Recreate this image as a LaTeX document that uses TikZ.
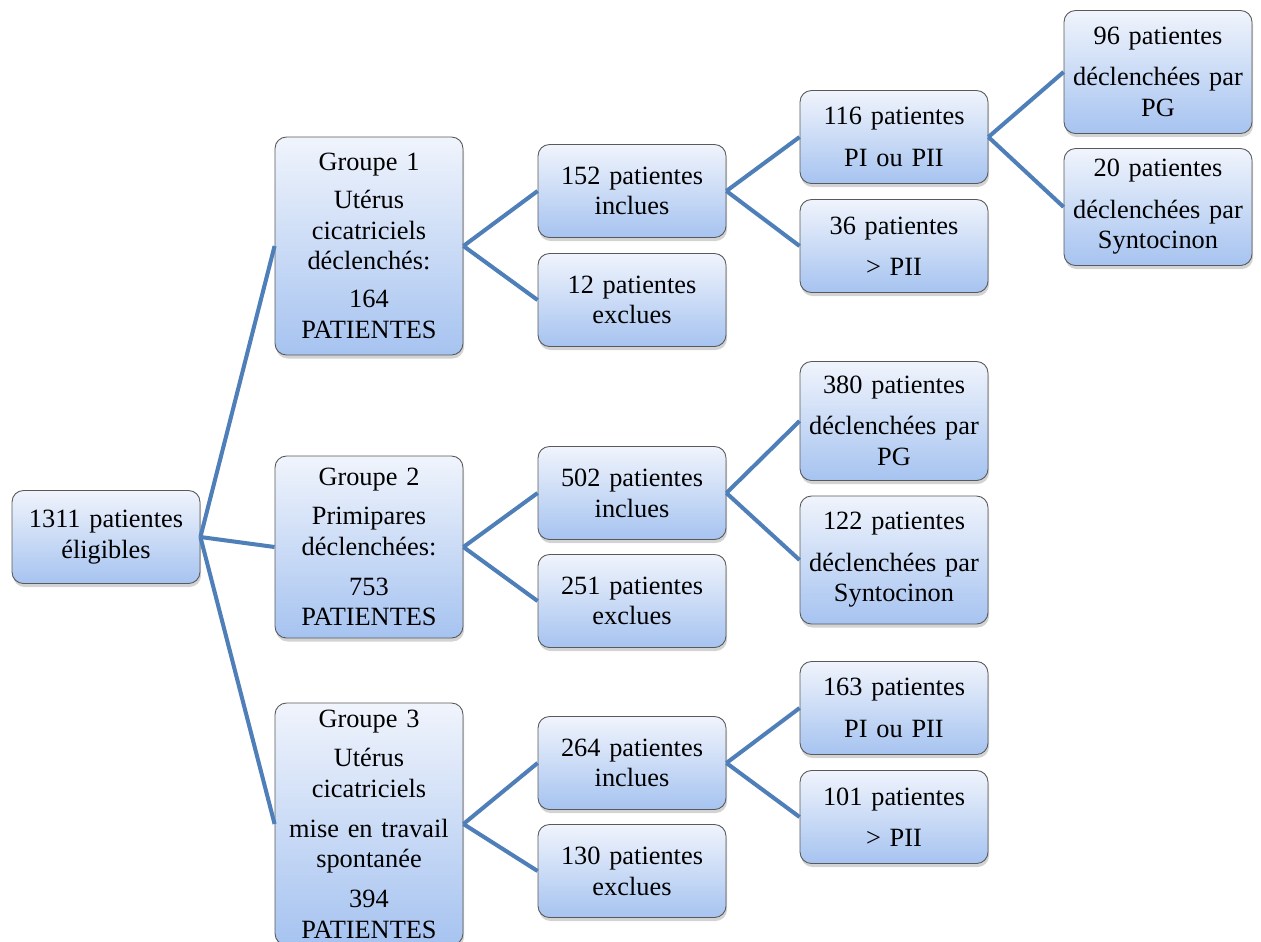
\documentclass[tikz,border=0pt]{standalone}
\usepackage{fontspec}
\setmainfont{Liberation Serif}
\usetikzlibrary{shadows}
\definecolor{boxtop}{RGB}{240,244,252}
\definecolor{boxbot}{RGB}{166,195,240}
\definecolor{linkblue}{RGB}{79,127,184}

\begin{document}
\begin{tikzpicture}[x=0.02cm,y=-0.02cm,
    patbox/.style={draw=black!65, line width=0.5pt, rounded corners=6.5pt,
      top color=boxtop, bottom color=boxbot, text width=3.6cm, align=center,
      minimum width=3.76cm, inner sep=2pt, font=\fontsize{15}{17.5}\selectfont,
      drop shadow={opacity=0.35, shadow xshift=0.6pt, shadow yshift=-2pt}},
    link/.style={draw=linkblue, line width=2.3pt}]
  \useasboundingbox (0,0) rectangle (1261,941);
  % racine
  \node[patbox, minimum height=1.86cm] (root) at (106,537) {1311 patientes\\ éligibles};
  % groupes
  \node[patbox, minimum height=4.36cm] (grpA) at (369,246) {Groupe 1\\[4pt] Utérus\\ cicatriciels\\ déclenchés:\\[4pt] 164\\ PATIENTES};
  \node[patbox, minimum height=3.64cm] (grpB) at (369,547) {Groupe 2\\[5pt] Primipares\\ déclenchées:\\[5pt] 753\\ PATIENTES};
  \node[patbox, minimum height=4.84cm] (grpC) at (369,824) {Groupe 3\\[5pt] Utérus\\ cicatriciels\\[5pt] mise en travail\\ spontanée\\[5pt] 394\\ PATIENTES};
  % groupe 1
  \node[patbox, minimum height=1.86cm] (inclA) at (632,191) {152 patientes\\ inclues};
  \node[patbox, minimum height=1.86cm] (exclA) at (632,300) {12 patientes\\ exclues};
  \node[patbox, minimum height=1.86cm] (piA) at (894,137) {116 patientes\\[6pt] PI ou PII};
  \node[patbox, minimum height=1.86cm] (plusA) at (894,246) {36 patientes\\[6pt] > PII};
  \node[patbox, minimum height=2.46cm] (pgA) at (1158,72) {96 patientes\\[6pt] déclenchées par\\ PG};
  \node[patbox, minimum height=2.34cm] (syntA) at (1158,207) {20 patientes\\[6pt] déclenchées par\\ Syntocinon};
  % groupe 2
  \node[patbox, minimum height=1.86cm] (inclB) at (632,493) {502 patientes\\ inclues};
  \node[patbox, minimum height=1.86cm] (exclB) at (632,601) {251 patientes\\ exclues};
  \node[patbox, minimum height=2.38cm] (pgB) at (894,421) {380 patientes\\[6pt] déclenchées par\\ PG};
  \node[patbox, minimum height=2.56cm] (syntB) at (894,560) {122 patientes\\[6pt] déclenchées par\\ Syntocinon};
  % groupe 3
  \node[patbox, minimum height=1.86cm] (inclC) at (632,763) {264 patientes\\ inclues};
  \node[patbox, minimum height=1.86cm] (exclC) at (632,871) {130 patientes\\ exclues};
  \node[patbox, minimum height=1.86cm] (piC) at (894,708) {163 patientes\\[6pt] PI ou PII};
  \node[patbox, minimum height=1.86cm] (plusC) at (894,817) {101 patientes\\[6pt] > PII};
  % liens
  \foreach \a/\b in {root/grpA, root/grpB, root/grpC,
      grpA/inclA, grpA/exclA, inclA/piA, inclA/plusA, piA/pgA, piA/syntA,
      grpB/inclB, grpB/exclB, inclB/pgB, inclB/syntB,
      grpC/inclC, grpC/exclC, inclC/piC, inclC/plusC}
    \draw[link] (\a.east) -- (\b.west);
\end{tikzpicture}
\end{document}
